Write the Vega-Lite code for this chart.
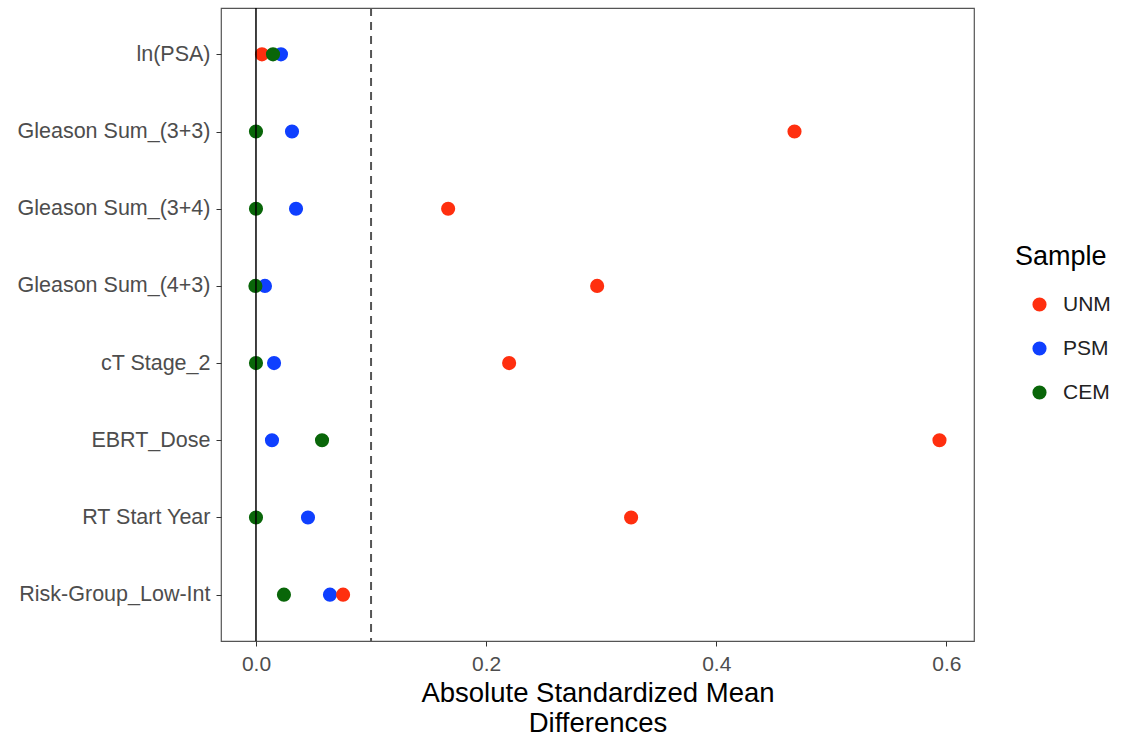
{
  "$schema": "https://vega.github.io/schema/vega-lite/v6.json",
  "width": 753,
  "height": 633,
  "autosize": {"type": "none"},
  "padding": {"left": 221, "top": 8, "right": 150, "bottom": 97},
  "background": "white",
  "config": {
    "font": "Liberation Sans",
    "view": {"stroke": "#555555", "strokeWidth": 1.2},
    "axis": {"grid": false, "domain": false, "tickColor": "#333333", "tickSize": 5, "labelColor": "#4d4d4d", "labelFontSize": 21.5, "labelLimit": 400, "titleFontSize": 27.5, "titleFontWeight": "normal", "titleColor": "#000000"}
  },
  "data": {"values": [
    {"var": "ln(PSA)", "Sample": "UNM", "value": 0.0052, "ord": 2},
    {"var": "ln(PSA)", "Sample": "PSM", "value": 0.0217, "ord": 1},
    {"var": "ln(PSA)", "Sample": "CEM", "value": 0.0148, "ord": 3},
    {"var": "Gleason Sum_(3+3)", "Sample": "UNM", "value": 0.468, "ord": 2},
    {"var": "Gleason Sum_(3+3)", "Sample": "PSM", "value": 0.0313, "ord": 1},
    {"var": "Gleason Sum_(3+3)", "Sample": "CEM", "value": 0.0, "ord": 3},
    {"var": "Gleason Sum_(3+4)", "Sample": "UNM", "value": 0.167, "ord": 2},
    {"var": "Gleason Sum_(3+4)", "Sample": "PSM", "value": 0.0348, "ord": 1},
    {"var": "Gleason Sum_(3+4)", "Sample": "CEM", "value": 0.0, "ord": 3},
    {"var": "Gleason Sum_(4+3)", "Sample": "UNM", "value": 0.2965, "ord": 2},
    {"var": "Gleason Sum_(4+3)", "Sample": "PSM", "value": 0.0078, "ord": 1},
    {"var": "Gleason Sum_(4+3)", "Sample": "CEM", "value": -0.0005, "ord": 3},
    {"var": "cT Stage_2", "Sample": "UNM", "value": 0.22, "ord": 2},
    {"var": "cT Stage_2", "Sample": "PSM", "value": 0.0157, "ord": 1},
    {"var": "cT Stage_2", "Sample": "CEM", "value": 0.0, "ord": 3},
    {"var": "EBRT_Dose", "Sample": "UNM", "value": 0.594, "ord": 2},
    {"var": "EBRT_Dose", "Sample": "PSM", "value": 0.0139, "ord": 1},
    {"var": "EBRT_Dose", "Sample": "CEM", "value": 0.0574, "ord": 3},
    {"var": "RT Start Year", "Sample": "UNM", "value": 0.326, "ord": 2},
    {"var": "RT Start Year", "Sample": "PSM", "value": 0.0452, "ord": 1},
    {"var": "RT Start Year", "Sample": "CEM", "value": 0.0, "ord": 3},
    {"var": "Risk-Group_Low-Int", "Sample": "UNM", "value": 0.0757, "ord": 2},
    {"var": "Risk-Group_Low-Int", "Sample": "PSM", "value": 0.0643, "ord": 1},
    {"var": "Risk-Group_Low-Int", "Sample": "CEM", "value": 0.0243, "ord": 3}
  ]},
  "layer": [
    {
      "mark": {"type": "circle", "size": 200, "opacity": 1},
      "encoding": {
        "x": {"field": "value", "type": "quantitative", "scale": {"domain": [-0.0304, 0.624], "nice": false, "zero": false},
              "axis": {"values": [0, 0.2, 0.4, 0.6], "format": ".1f", "labelFontSize": 21, "title": ["Absolute Standardized Mean", "Differences"], "titlePadding": 5, "labelPadding": 7, "titleLineHeight": 30}},
        "y": {"field": "var", "type": "nominal", "sort": ["ln(PSA)", "Gleason Sum_(3+3)", "Gleason Sum_(3+4)", "Gleason Sum_(4+3)", "cT Stage_2", "EBRT_Dose", "RT Start Year", "Risk-Group_Low-Int"],
              "scale": {"padding": 0.6}, "axis": {"title": null, "labelPadding": 6}},
        "color": {"field": "Sample", "type": "nominal", "scale": {"domain": ["UNM", "PSM", "CEM"], "range": ["#FF2F0F", "#0F3FFF", "#096609"]},
                  "legend": {"orient": "none", "legendX": 794, "legendY": 236, "title": "Sample", "titleFontSize": 27, "titleFontWeight": "normal", "titleColor": "#000000", "titlePadding": 23, "labelFontSize": 21, "labelColor": "#222222", "symbolSize": 200, "symbolType": "circle", "rowPadding": 22, "labelOffset": 13, "symbolOffset": 14}},
        "order": {"field": "ord", "type": "quantitative"}
      }
    },
    {
      "data": {"values": [{"x": 0}]},
      "mark": {"type": "rule", "color": "#000000", "strokeWidth": 1.5},
      "encoding": {"x": {"field": "x", "type": "quantitative"}}
    },
    {
      "data": {"values": [{"x": 0.1}]},
      "mark": {"type": "rule", "color": "#555555", "strokeWidth": 2, "strokeDash": [8, 6]},
      "encoding": {"x": {"field": "x", "type": "quantitative"}}
    }
  ]
}
